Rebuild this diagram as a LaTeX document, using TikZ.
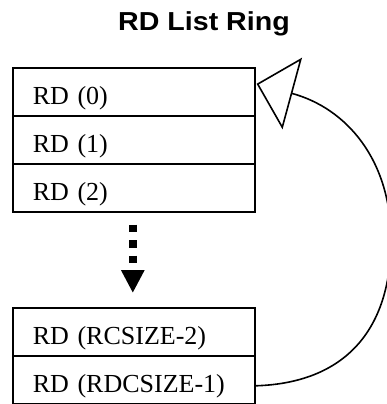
\documentclass[tikz,border=0pt]{standalone}
\usepackage{fontspec}
\setmainfont{Liberation Serif}
\newfontfamily\titlefont{Liberation Sans}
\usetikzlibrary{arrows.meta}
\begin{document}
\begin{tikzpicture}[x=1pt,y=-1pt,
  rowbox/.style={draw, line width=1.6pt, anchor=north west, minimum height=48pt,
    inner xsep=20pt, inner ysep=0pt, text width=202pt, align=left,
    text height=30pt, text depth=4pt, font=\fontsize{26}{28}\selectfont},
  dotarrow/.style={line width=8pt, dash pattern=on 7.5pt off 8pt,
    shorten <=12pt, shorten >=14pt, -{Triangle[length=23pt,width=22pt]}},
  ring/.style={line width=1.6pt, -{Triangle[open,length=37pt,width=74pt]}},
  titletext/.style={anchor=base, inner sep=0pt, font=\titlefont\bfseries\fontsize{26}{30}\selectfont}]
\useasboundingbox (0,0) rectangle (386,404);
\node[titletext] (title) at (204,31) {\scalebox{1.1}[1]{RD List Ring}};
\node[rowbox] (r0) at (12,67) {RD (0)};
\node[rowbox] (r1) at (12,115) {RD (1)};
\node[rowbox] (r2) at (12,163) {RD (2)};
\node[rowbox] (s0) at (12,307) {RD (RCSIZE-2)};
\node[rowbox] (s1) at (12,355) {RD (RDCSIZE-1)};
\draw[dotarrow] ([xshift=-1pt]r2.south) -- ([xshift=-1pt]s0.north);
\coordinate (tip) at ([xshift=1pt,yshift=8pt]r0.east);
\coordinate (start) at ([yshift=-6pt]s1.east);
\draw[ring] (start) .. controls (345,383) and (391,330) .. (391,240)
  .. controls (391,160) and (346.7,108.3) .. (tip);
\end{tikzpicture}
\end{document}
